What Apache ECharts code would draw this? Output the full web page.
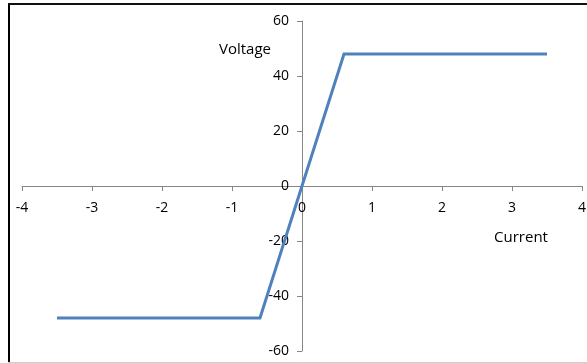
<!DOCTYPE html>
<html>
<head>
<meta charset="utf-8">
<script src="https://cdn.jsdelivr.net/npm/echarts@6/dist/echarts.min.js"></script>
<style>
html,body{margin:0;padding:0;background:#fff;}
#chart{width:587px;height:363px;}
</style>
</head>
<body>
<div id="chart"></div>
<script>
// Data
const currentValues = [-3.5, -0.6, 0.6, 3.5];
const voltageValues = [-48, -48, 48, 48];
const xTicks = [-4, -3, -2, -1, 0, 1, 2, 3, 4];
const yTicks = [-60, -40, -20, 0, 20, 40, 60];
const xAxisTitle = 'Current';
const yAxisTitle = 'Voltage';

const seriesData = currentValues.map((c, i) => [c, voltageValues[i]]);
const FONT = 'Open Sans';
const GRID = {left: 22, right: 5, top: 21, bottom: 12};
const W = 587, H = 363;
const gw = W - GRID.left - GRID.right;
const gh = H - GRID.top - GRID.bottom;
const xMin = xTicks[0], xMax = xTicks[xTicks.length - 1];
const yMin = yTicks[0], yMax = yTicks[yTicks.length - 1];
// offsets to place axes through zero
const xAxisOffset = -gh * (0 - yMin) / (yMax - yMin);
const yAxisOffset = -gw * (0 - xMin) / (xMax - xMin);

const chart = echarts.init(document.getElementById('chart'), null, {renderer: 'canvas'});
chart.setOption({
  animation: false,
  backgroundColor: '#ffffff',
  grid: Object.assign({containLabel: false, outerBoundsMode: 'none'}, GRID),
  xAxis: {
    type: 'value', position: 'bottom', offset: xAxisOffset,
    min: xMin, max: xMax, interval: 1,
    axisLine: {show: true, onZero: false, lineStyle: {color: '#868686', width: 1}},
    axisTick: {show: true, inside: false, length: 5, lineStyle: {color: '#868686'}},
    axisLabel: {show: true, margin: 15, color: '#000', fontFamily: FONT, fontSize: 14},
    splitLine: {show: false}
  },
  yAxis: {
    type: 'value', position: 'left', offset: yAxisOffset,
    min: yMin, max: yMax, interval: 20,
    axisLine: {show: true, onZero: false, lineStyle: {color: '#868686', width: 1}},
    axisTick: {show: true, inside: false, length: 5, lineStyle: {color: '#868686'}},
    axisLabel: {show: true, margin: 13, color: '#000', fontFamily: FONT, fontSize: 14},
    splitLine: {show: false}
  },
  series: [{
    type: 'line',
    data: seriesData,
    showSymbol: false,
    symbol: 'none',
    lineStyle: {color: '#4F81BD', width: 3, join: 'miter'},
    itemStyle: {color: '#4F81BD'}
  }],
  graphic: [
    {type: 'line', shape: {x1: 9, y1: 3, x2: 9, y2: 363}, style: {stroke: '#000', lineWidth: 2}, z: 100},
    {type: 'line', shape: {x1: 8, y1: 4, x2: 587, y2: 4}, style: {stroke: '#111', lineWidth: 2}, z: 100},
    {type: 'line', shape: {x1: 8, y1: 362.5, x2: 587, y2: 362.5}, style: {stroke: '#d0d0d0', lineWidth: 1}, z: 100},
    {type: 'text', x: 245, y: 50, style: {text: yAxisTitle, fill: '#000', font: '15px "Open Sans"', textAlign: 'center', textVerticalAlign: 'middle'}},
    {type: 'text', x: 521, y: 238, style: {text: xAxisTitle, fill: '#000', font: '15px "Open Sans"', textAlign: 'center', textVerticalAlign: 'middle'}}
  ]
});
</script>
</body>
</html>
